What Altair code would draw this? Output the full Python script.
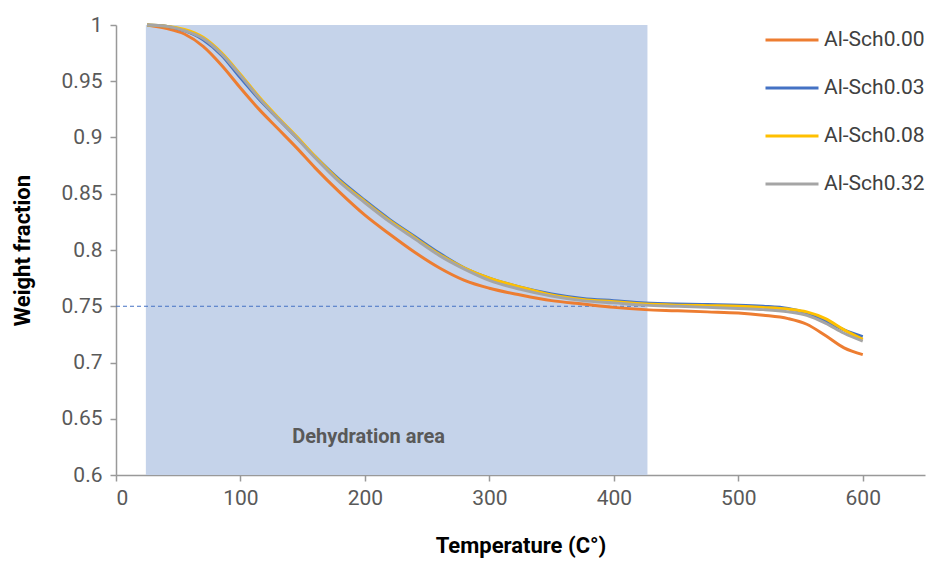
import altair as alt
import pandas as pd

# ---- data ----
temps = [25, 40, 55, 70, 85, 100, 115, 130, 145, 160, 180, 200, 220, 240, 260, 280,
         300, 325, 350, 375, 400, 425, 450, 475, 500, 520, 540, 555, 570, 585, 600]
w_000 = [1.000, 0.997, 0.992, 0.981, 0.964, 0.944, 0.925, 0.908, 0.891, 0.873, 0.851,
         0.831, 0.814, 0.798, 0.784, 0.773, 0.766, 0.760, 0.755, 0.752, 0.749, 0.747,
         0.746, 0.745, 0.744, 0.742, 0.739, 0.734, 0.724, 0.713, 0.707]
w_003 = [1.000, 0.999, 0.995, 0.987, 0.973, 0.953, 0.934, 0.917, 0.900, 0.883, 0.862,
         0.844, 0.827, 0.812, 0.797, 0.784, 0.775, 0.767, 0.761, 0.757, 0.755, 0.753,
         0.752, 0.7515, 0.751, 0.750, 0.748, 0.744, 0.737, 0.729, 0.723]
w_008 = [1.000, 0.999, 0.996, 0.989, 0.975, 0.956, 0.936, 0.918, 0.901, 0.883, 0.861,
         0.843, 0.826, 0.811, 0.796, 0.784, 0.775, 0.767, 0.760, 0.756, 0.754, 0.752,
         0.751, 0.7505, 0.750, 0.749, 0.7475, 0.745, 0.739, 0.729, 0.7205]
w_032 = [1.000, 0.999, 0.995, 0.988, 0.974, 0.955, 0.935, 0.917, 0.900, 0.882, 0.860,
         0.842, 0.825, 0.810, 0.795, 0.783, 0.773, 0.765, 0.759, 0.755, 0.753, 0.751,
         0.750, 0.749, 0.748, 0.747, 0.745, 0.742, 0.735, 0.726, 0.719]

series_names = ["Al-Sch0.00", "Al-Sch0.03", "Al-Sch0.08", "Al-Sch0.32"]
series_colors = ["#ED7D31", "#4472C4", "#FFC000", "#A5A5A5"]

x_ticks = [0, 100, 200, 300, 400, 500, 600]
y_ticks = [0.6, 0.65, 0.7, 0.75, 0.8, 0.85, 0.9, 0.95, 1.0]

zone_start, zone_end = 24, 427          # dehydration area (°C)
ref_level, ref_end = 0.75, 425           # dashed reference line
zone_label = "Dehydration area"
label_pos = (203, 0.634)

# ---- tables ----
rows = []
for name, vals in zip(series_names, [w_000, w_003, w_008, w_032]):
    for t, v in zip(temps, vals):
        rows.append({"Temperature": t, "Weight": v, "Series": name})
df = pd.DataFrame(rows)

zone_df = pd.DataFrame({"x": [zone_start], "x2": [zone_end], "y": [0.6], "y2": [1.0]})
ref_df = pd.DataFrame({"x": [0], "x2": [ref_end], "y": [ref_level]})
txt_df = pd.DataFrame({"x": [label_pos[0]], "y": [label_pos[1]], "t": [zone_label]})

FONT = "Roboto"
x_scale = alt.Scale(domain=[0, 650], nice=False, zero=False)
y_scale = alt.Scale(domain=[0.6, 1.0], nice=False, zero=False)

zone = alt.Chart(zone_df).mark_rect(color="#C5D3EA").encode(
    x=alt.X("x:Q", scale=x_scale), x2="x2:Q",
    y=alt.Y("y:Q", scale=y_scale), y2="y2:Q",
)

ref = alt.Chart(ref_df).mark_rule(color="#4472C4", strokeDash=[4, 3], strokeWidth=1).encode(
    x=alt.X("x:Q", scale=x_scale), x2="x2:Q",
    y=alt.Y("y:Q", scale=y_scale),
)

txt = alt.Chart(txt_df).mark_text(
    font=FONT, fontSize=20, fontWeight="bold", color="#595959", align="center", baseline="middle"
).encode(
    x=alt.X("x:Q", scale=x_scale), y=alt.Y("y:Q", scale=y_scale), text="t:N"
)

lines = alt.Chart(df).mark_line(strokeWidth=3, interpolate="monotone").encode(
    x=alt.X(
        "Temperature:Q", scale=x_scale,
        axis=alt.Axis(
            title="Temperature (C°)", values=x_ticks, grid=False,
            titleX=404.5, titleY=70, titleBaseline="middle",
        ),
    ),
    y=alt.Y(
        "Weight:Q", scale=y_scale,
        axis=alt.Axis(
            title="Weight fraction", values=y_ticks, format=".2~f", grid=False,
            titleX=-94, titleY=225, titleAlign="center", titleBaseline="middle", titleAngle=-90,
        ),
    ),
    color=alt.Color(
        "Series:N",
        scale=alt.Scale(domain=series_names, range=series_colors),
        legend=alt.Legend(
            title=None, orient="none", legendX=648, legendY=-13, padding=0,
            symbolType="stroke", symbolSize=2809, symbolStrokeWidth=3,
            labelFontSize=21, labelFont=FONT, labelColor="#404040",
            labelOffset=4, rowPadding=10,
        ),
    ),
    order=alt.Order("Temperature:Q"),
)

chart = alt.layer(zone, ref, txt, lines).properties(
    width=809, height=450,
    autosize=alt.AutoSizeParams(type="none"),
    padding={"left": 116, "top": 25, "right": 8, "bottom": 86},
).configure_view(stroke=None).configure_axis(
    domainColor="#999999", domainWidth=1.5, tickColor="#999999", tickWidth=1.5, tickSize=6,
    labelFont=FONT, labelFontSize=21, labelColor="#595959",
    titleFont=FONT, titleFontSize=22, titleFontWeight="bold", titleColor="#000000",
).configure_axisY(labelPadding=8).configure_axisX(labelPadding=6)

chart.save("out.html", embed_options={"renderer": "svg", "actions": False})
